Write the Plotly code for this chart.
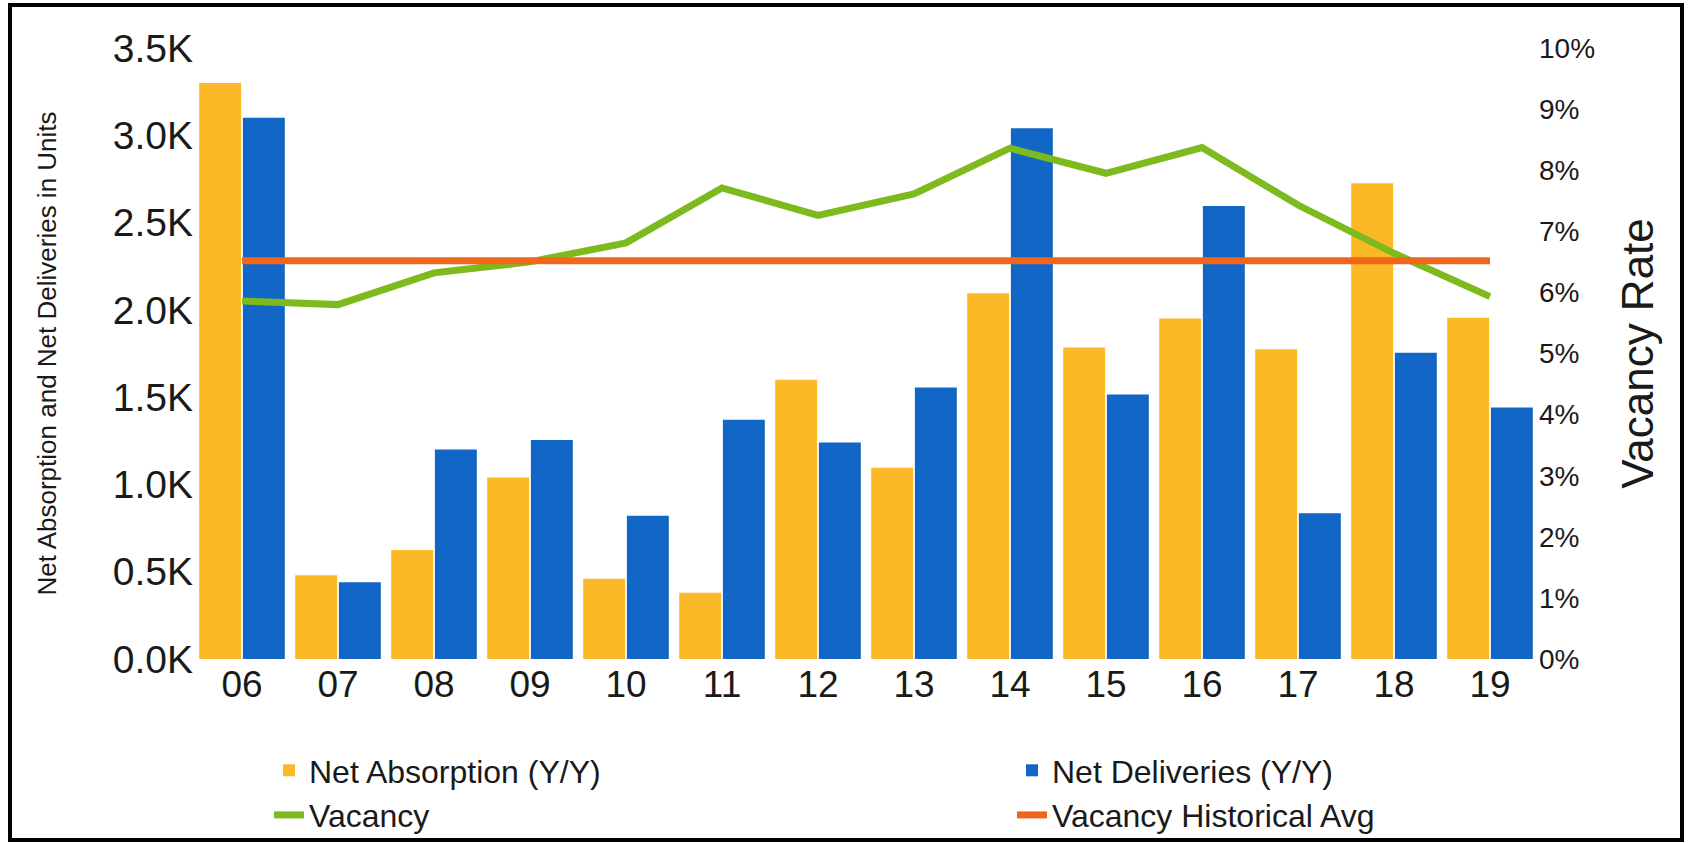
import plotly.graph_objects as go

# Year labels (two-digit) and yearly values
years = ["06", "07", "08", "09", "10", "11", "12", "13", "14", "15", "16", "17", "18", "19"]
net_absorption = [3300, 480, 625, 1040, 460, 380, 1600, 1095, 2095, 1785, 1950, 1775, 2725, 1955]
net_deliveries = [3100, 440, 1200, 1255, 820, 1370, 1240, 1555, 3040, 1515, 2595, 835, 1755, 1440]
vacancy_rate = [0.0586, 0.0580, 0.0632, 0.0650, 0.0681, 0.0771, 0.0726, 0.0761, 0.0836, 0.0795, 0.0837, 0.0743, 0.0664, 0.0593]
VACANCY_HIST_AVG = 0.0652

left_tickvals = [0, 500, 1000, 1500, 2000, 2500, 3000, 3500]
left_ticktext = ["0.0K", "0.5K", "1.0K", "1.5K", "2.0K", "2.5K", "3.0K", "3.5K"]

FONT = "Liberation Sans, Arial, sans-serif"
W, H = 1692, 843
ML, MR, MT, MB = 194, 154, 48, 184
PW, PH = W - ML - MR, H - MT - MB


def px_x(p):
    return (p - ML) / PW


def px_y(p):
    return (H - MB - p) / PH


fig = go.Figure()

fig.add_trace(go.Bar(
    x=years, y=net_absorption, name="Net Absorption (Y/Y)", legend="legend",
    marker=dict(color="#FBB927", line=dict(width=0)),
))
fig.add_trace(go.Bar(
    x=years, y=net_deliveries, name="Net Deliveries (Y/Y)", legend="legend2",
    marker=dict(color="#1166C6", line=dict(width=0)),
))
fig.add_trace(go.Scatter(
    x=years, y=vacancy_rate, name="Vacancy", yaxis="y2", legend="legend",
    mode="lines", line=dict(color="#7DBA1E", width=7),
))
fig.add_trace(go.Scatter(
    x=years, y=[VACANCY_HIST_AVG] * len(years), name="Vacancy Historical Avg",
    yaxis="y2", legend="legend2",
    mode="lines", line=dict(color="#F2661C", width=7),
))

# Outer black frame around the whole chart
fig.add_shape(
    type="rect", xref="paper", yref="paper",
    x0=px_x(10), x1=px_x(1682), y0=px_y(840), y1=px_y(5),
    line=dict(color="black", width=4), fillcolor="rgba(0,0,0,0)", layer="above",
)

legend_style = dict(
    orientation="v", xanchor="left", yanchor="top",
    font=dict(size=32, family=FONT, color="#1a1a1a"),
    bgcolor="rgba(0,0,0,0)", traceorder="normal", tracegroupgap=0,
)

fig.update_layout(
    width=W, height=H,
    margin=dict(l=ML, r=MR, t=MT, b=MB, autoexpand=False),
    paper_bgcolor="white", plot_bgcolor="white",
    font=dict(family=FONT, color="#1a1a1a"),
    barmode="group", bargap=0.09, bargroupgap=0.04,
    showlegend=True,
    legend=dict(x=px_x(269), y=px_y(743), **legend_style),
    legend2=dict(x=px_x(1012), y=px_y(743), **legend_style),
    xaxis=dict(
        type="category", range=[-0.5, len(years) - 0.5],
        showgrid=False, zeroline=False, showline=False, ticks="",
        tickfont=dict(size=37, family=FONT, color="#1a1a1a"),
    ),
    yaxis=dict(
        range=[0, 3500], tickvals=left_tickvals, ticktext=left_ticktext,
        showgrid=False, zeroline=False, showline=False, ticks="",
        tickfont=dict(size=39, family=FONT, color="#1a1a1a"),
        title=dict(text="Net Absorption and Net Deliveries in Units",
                   font=dict(size=26, family=FONT, color="#1a1a1a"), standoff=48),
    ),
    yaxis2=dict(
        overlaying="y", side="right", range=[0, 0.10], dtick=0.01, tickformat=".0%",
        showgrid=False, zeroline=False, showline=False, ticks="",
        tickfont=dict(size=28, family=FONT, color="#1a1a1a"),
        title=dict(text="Vacancy Rate", font=dict(size=44, family=FONT, color="#1a1a1a"),
                   standoff=28),
    ),
)

fig.write_html("out.html")
